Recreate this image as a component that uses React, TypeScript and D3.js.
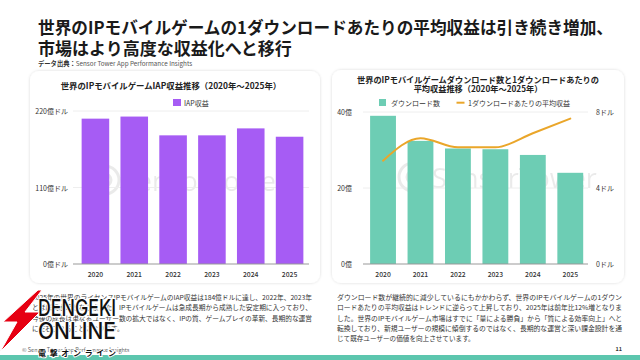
import React from "react";
import * as d3 from "d3";

const years = ["2020", "2021", "2022", "2023", "2024", "2025"];
const iapRevenue = [209, 212, 185, 185, 195, 183];
const downloads = [39.0, 32.4, 30.4, 30.2, 28.7, 24.0];
const revenuePerDownload = [5.44, 6.62, 6.14, 6.14, 6.88, 7.65];

const leftTicks = [0, 110, 220];
const leftTickLabels = ["0億ドル", "110億ドル", "220億ドル"];
const rightTicksL = [0, 20, 40];
const rightTickLabelsL = ["0億", "20億", "40億"];
const rightTicksR = [0, 4, 8];
const rightTickLabelsR = ["0ドル", "4ドル", "8ドル"];

const titleLines = [
  "世界のIPモバイルゲームの1ダウンロードあたりの平均収益は引き続き増加、",
  "市場はより高度な収益化へと移行",
];
const leftChartTitle = "世界のIPモバイルゲームIAP収益推移（2020年～2025年）";
const rightChartTitle = [
  "世界のIPモバイルゲームダウンロード数と1ダウンロードあたりの",
  "平均収益推移（2020年～2025年）",
];
const leftLegend = "IAP収益";
const rightLegend = ["ダウンロード数", "1ダウンロードあたりの平均収益"];
const leftPara = [
  "2025年の世界のライセンスIPモバイルゲームのIAP収益は184億ドルに達し、2022年、2023年",
  "とほぼ同水準となりました。IPモバイルゲームは急成長期から成熟した安定期に入っており、",
  "今後の成長は単なるユーザー数の拡大ではなく、IPの質、ゲームプレイの革新、長期的な運営",
  "に左右されることになります。",
];
const rightPara = [
  "ダウンロード数が継続的に減少しているにもかかわらず、世界のIPモバイルゲームの1ダウン",
  "ロードあたりの平均収益はトレンドに逆らって上昇しており、2025年は前年比12%増となりま",
  "した。世界のIPモバイルゲーム市場はすでに「量による勝負」から「質による効率向上」へと",
  "転換しており、新規ユーザーの規模に傾倒するのではなく、長期的な運営と深い課金設計を通",
  "じて既存ユーザーの価値を向上させています。",
];

const FONT = "'Noto Sans CJK JP', 'Noto Sans', sans-serif";
const PURPLE = "#A65CF4";
const TEAL = "#6DCDB4";
const ORANGE = "#EAA62A";
const TXT = "#333";

export default function App() {
  const xL = d3.scaleBand().domain(years).range([76, 309]).paddingInner(0.29).paddingOuter(0.145);
  const yL = d3.scaleLinear().domain([0, 220]).range([264, 111]);
  const xR = d3.scaleBand().domain(years).range([364.3, 589]).paddingInner(0.31).paddingOuter(0.155);
  const yRL = d3.scaleLinear().domain([0, 40]).range([264, 112]);
  const yRR = d3.scaleLinear().domain([0, 8]).range([264, 112]);

  const line = d3
    .line<number>()
    .x((_, i) => (xR(years[i]) as number) + xR.bandwidth() / 2)
    .y((d) => yRR(d))
    .curve(d3.curveMonotoneX);

  const watermark = (cx: number, cy: number, tx: number) => (
    <g opacity={0.08}>
      <circle cx={cx} cy={cy} r={14} fill="none" stroke="#000" strokeWidth={3} />
      <circle cx={cx} cy={cy} r={6} fill="none" stroke="#000" strokeWidth={3} />
      <text x={tx} y={cy} dominantBaseline="central" fontFamily="'Open Sans', sans-serif" fontSize={27} fill="#000">
        SensorTower
      </text>
    </g>
  );

  return (
    <svg width={640} height={360} style={{ position: "absolute", left: 0, top: 0 }} fontFamily={FONT}>
      <defs>
        <filter id="sh" x="-10%" y="-10%" width="120%" height="120%">
          <feDropShadow dx="0" dy="0" stdDeviation="1.5" floodColor="#000" floodOpacity="0.15" />
        </filter>
      </defs>
      <rect width={640} height={360} fill="#fff" />

      <text x={38} y={26} dominantBaseline="central" fontSize={17} fontWeight={700} fill="#1a1a1a" textLength={575} lengthAdjust="spacingAndGlyphs">
        {titleLines[0]}
      </text>
      <text x={38} y={47} dominantBaseline="central" fontSize={17} fontWeight={700} fill="#1a1a1a">
        {titleLines[1]}
      </text>
      <text x={38} y={62.5} dominantBaseline="central" fontSize={6.3} fill="#555">
        <tspan fontWeight={700} fill="#333">データ出典：</tspan>
        <tspan>Sensor Tower App Performance Insights</tspan>
      </text>

      <rect x={30} y={71} width={290} height={212} rx={9} fill="#fff" filter="url(#sh)" />
      <rect x={332} y={70} width={292} height={213} rx={9} fill="#fff" filter="url(#sh)" />

      {/* Left chart */}
      {watermark(105, 180, 122)}
      <text x={171} y={85} textAnchor="middle" dominantBaseline="central" fontSize={8.4} fontWeight={700} fill="#222">
        {leftChartTitle}
      </text>
      <rect x={173} y={99} width={8} height={7} fill={PURPLE} />
      <text x={184} y={102.7} dominantBaseline="central" fontSize={7} fill={TXT}>{leftLegend}</text>
      {leftTicks.map((t, i) => (
        <g key={"lt" + t}>
          {t > 0 && <line x1={73} x2={309} y1={yL(t)} y2={yL(t)} stroke="#eeeeee" strokeWidth={1} />}
          <text x={68} y={yL(t)} textAnchor="end" dominantBaseline="central" fontSize={7} fill={TXT}>
            {leftTickLabels[i]}
          </text>
        </g>
      ))}
      {iapRevenue.map((v, i) => (
        <rect key={"lb" + i} x={xL(years[i])} y={yL(v)} width={xL.bandwidth()} height={yL(0) - yL(v)} fill={PURPLE} />
      ))}
      <line x1={73} x2={309} y1={264} y2={264} stroke="#999" strokeWidth={1} />
      {years.map((y) => (
        <text key={"lx" + y} x={(xL(y) as number) + xL.bandwidth() / 2} y={274} textAnchor="middle" dominantBaseline="central" fontSize={6.8} fontWeight={500} fill={TXT}>
          {y}
        </text>
      ))}

      {/* Right chart */}
      {watermark(413, 177, 432)}
      <text x={478} y={78.5} textAnchor="middle" dominantBaseline="central" fontSize={8.2} fontWeight={700} fill="#222">
        {rightChartTitle[0]}
      </text>
      <text x={478} y={88} textAnchor="middle" dominantBaseline="central" fontSize={8.2} fontWeight={700} fill="#222">
        {rightChartTitle[1]}
      </text>
      <rect x={379} y={99} width={7} height={7} fill={TEAL} />
      <text x={391} y={102.7} dominantBaseline="central" fontSize={7} fill={TXT}>{rightLegend[0]}</text>
      <line x1={456.5} x2={464.5} y1={102.7} y2={102.7} stroke={ORANGE} strokeWidth={2} />
      <text x={468} y={102.7} dominantBaseline="central" fontSize={7} fill={TXT}>{rightLegend[1]}</text>
      {rightTicksL.map((t, i) => (
        <g key={"rt" + t}>
          {t > 0 && <line x1={363} x2={588} y1={yRL(t)} y2={yRL(t)} stroke="#eeeeee" strokeWidth={1} />}
          <text x={352} y={yRL(t)} textAnchor="end" dominantBaseline="central" fontSize={7} fill={TXT}>
            {rightTickLabelsL[i]}
          </text>
        </g>
      ))}
      {rightTicksR.map((t, i) => (
        <text key={"rr" + t} x={596} y={yRR(t)} dominantBaseline="central" fontSize={7} fill={TXT}>
          {rightTickLabelsR[i]}
        </text>
      ))}
      {downloads.map((v, i) => (
        <rect key={"rb" + i} x={xR(years[i])} y={yRL(v)} width={xR.bandwidth()} height={yRL(0) - yRL(v)} fill={TEAL} />
      ))}
      <line x1={363} x2={588} y1={264} y2={264} stroke="#999" strokeWidth={1} />
      <path d={line(revenuePerDownload) || ""} fill="none" stroke={ORANGE} strokeWidth={2} strokeLinecap="round" />
      {years.map((y) => (
        <text key={"rx" + y} x={(xR(y) as number) + xR.bandwidth() / 2} y={274} textAnchor="middle" dominantBaseline="central" fontSize={6.8} fontWeight={500} fill={TXT}>
          {y}
        </text>
      ))}

      {/* Paragraphs */}
      {leftPara.map((s, i) => (
        <text key={"lp" + i} x={32} y={297 + i * 10.3} dominantBaseline="central" fontSize={6.6} fill={TXT}
          {...(i < leftPara.length - 1 ? { textLength: 280, lengthAdjust: "spacingAndGlyphs" } : {})}>
          {s}
        </text>
      ))}
      {rightPara.map((s, i) => (
        <text key={"rp" + i} x={337} y={297 + i * 10.3} dominantBaseline="central" fontSize={6.6} fill={TXT}
          {...(i < rightPara.length - 1 ? { textLength: 285, lengthAdjust: "spacingAndGlyphs" } : {})}>
          {s}
        </text>
      ))}

      {/* Footer */}
      <text x={22} y={350} dominantBaseline="central" fontSize={5.5} fill="#666">© Sensor Tower App Performance Insights</text>
      <text x={622} y={349} textAnchor="end" dominantBaseline="central" fontSize={5.5} fontWeight={700} fill="#333">11</text>
      <rect x={0} y={355} width={640} height={5} fill="#5CC6AE" />

      {/* Dengeki Online logo (overlay, as in the reference) */}
      <g>
        <polygon points="38,290 3,322 17,322 0,352 40,312 25,312 42,290" fill="#E60012" stroke="#fff" strokeWidth={1} />
        <text x={38} y={308} dominantBaseline="central" fontFamily="'Inter', 'Roboto', sans-serif" fontSize={23} fontWeight={500}
          fill="#111" stroke="#fff" strokeWidth={2.5} paintOrder="stroke" textLength={78} lengthAdjust="spacingAndGlyphs">
          DENGEKI
        </text>
        <text x={38} y={331} dominantBaseline="central" fontFamily="'Inter', 'Roboto', sans-serif" fontSize={23} fontWeight={500}
          fill="#111" stroke="#fff" strokeWidth={2.5} paintOrder="stroke" textLength={78} lengthAdjust="spacingAndGlyphs">
          ONLINE
        </text>
        <text x={38} y={352} dominantBaseline="central" fontSize={8} fontWeight={700}
          fill="#111" stroke="#fff" strokeWidth={2} paintOrder="stroke" textLength={78} lengthAdjust="spacing">
          電撃オンライン
        </text>
      </g>
    </svg>
  );
}
